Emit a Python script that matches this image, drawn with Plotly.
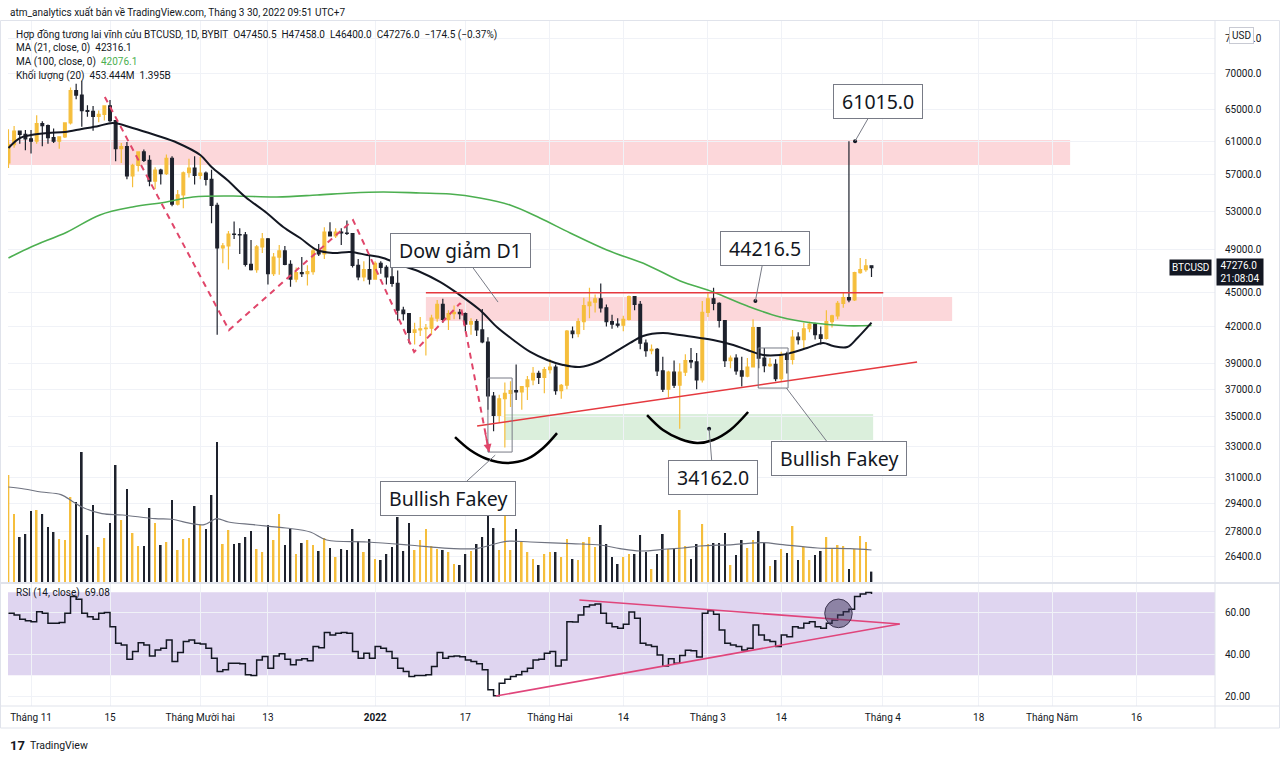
import math

import pandas as pd
import plotly.graph_objects as go

W, H = 1280, 759

# ---------------------------------------------------------------- data
# Daily BTCUSD perpetual (Bybit), 28 Oct 2021 .. 30 Mar 2022
DATES = pd.date_range("2021-10-28", "2022-03-30", freq="D")

OPEN = [58400, 60600, 62250, 61850, 61300, 61000, 63200, 62950, 61450, 61000,
        61550, 63300, 67550, 66950, 64900, 64800, 64150, 64400, 65500, 63600,
        60100, 60350, 56900, 58100, 59700, 58700, 56300, 57550, 57150, 58950,
        53750, 54750, 57250, 57800, 56950, 57200, 56500, 53600, 49200, 49400,
        50600, 50550, 50500, 47600, 47100, 49300, 50100, 46700, 48300, 48900,
        47600, 46200, 46800, 46700, 46900, 48900, 48600, 50800, 50400, 50800,
        50700, 50650, 47500, 46400, 47100, 46200, 47700, 47300, 46400, 45800,
        43400, 43100, 41500, 41700, 41800, 41850, 42700, 43900, 42600, 43100,
        43200, 43100, 42200, 42400, 41700, 40700, 36500, 35100, 36300, 36700,
        36900, 36800, 37200, 37700, 38200, 37900, 38500, 38700, 36900, 37300,
        41600, 41400, 42400, 43800, 44100, 44400, 43600, 42400, 42200, 42100,
        42600, 44600, 43900, 40600, 40000, 40100, 38400, 37000, 38300, 37300,
        38300, 39200, 39100, 37700, 43200, 44400, 44000, 42500, 39200, 39400,
        38400, 38000, 38700, 41900, 39400, 38800, 38900, 37800, 39700, 39300,
        41100, 40900, 41800, 42200, 41300, 41000, 42400, 42900, 44000, 44500,
        44300, 46800, 47100, 47450.5]
HIGH = [62500, 62900, 62300, 62400, 62400, 64300, 63500, 63100, 62600, 61600,
        63300, 68000, 68500, 68900, 65600, 65500, 64900, 65500, 66300, 63600,
        60800, 60900, 58300, 59800, 60000, 59300, 57900, 57700, 59400, 59200,
        55300, 57400, 58900, 59200, 59100, 57400, 57600, 53900, 49700, 50900,
        51900, 51200, 50800, 50000, 49500, 50700, 50200, 48700, 49500, 49400,
        48000, 47300, 48300, 47500, 49300, 49600, 51300, 51800, 51200, 51200,
        52000, 50700, 48100, 47900, 48500, 47900, 47900, 47500, 47500, 47000,
        43700, 43100, 42300, 42800, 42200, 43000, 44300, 44400, 43400, 43800,
        43500, 43200, 42700, 42600, 43500, 41100, 36800, 36600, 37500, 37600,
        38900, 37200, 38000, 38700, 38400, 38700, 39300, 38900, 37400, 41700,
        42000, 42700, 44500, 45400, 44800, 45800, 43900, 43000, 42700, 42900,
        44700, 44600, 44200, 40900, 40500, 40200, 39500, 38400, 39200, 39000,
        39700, 40200, 39800, 44200, 44900, 45400, 44100, 42500, 39600, 39700,
        39500, 39400, 42600, 41900, 40200, 39400, 39300, 39900, 39900, 41700,
        41500, 42300, 42400, 42300, 42000, 43400, 43000, 44200, 45000, 61015,
        46900, 48200, 48100, 47458]
LOW = [57800, 60200, 60700, 59900, 59500, 60700, 60400, 60700, 60800, 60100,
       61400, 63100, 66400, 62800, 64100, 62300, 63400, 63600, 63400, 58600,
       58400, 56500, 55600, 57400, 58500, 55700, 55400, 55900, 57000, 53500,
       53600, 53300, 56700, 55900, 56500, 55800, 51700, 41300, 47700, 47100,
       50100, 48600, 47400, 47000, 46800, 48700, 45700, 46500, 46600, 47500,
       45500, 45900, 46400, 45600, 46600, 48400, 48100, 50400, 50200, 49500,
       50500, 47300, 46100, 46000, 45700, 46200, 46700, 45700, 45500, 42500,
       42500, 40600, 40500, 41200, 39600, 41300, 42400, 42300, 41700, 42600,
       42600, 41600, 41300, 41200, 40600, 35500, 34000, 34600, 32900, 35700,
       36200, 35500, 36200, 37300, 37400, 36700, 38200, 36600, 36300, 37000,
       41000, 41100, 41700, 42700, 43200, 43200, 42000, 41800, 41900, 41600,
       42500, 43400, 40100, 39500, 39700, 38000, 36800, 36400, 37100, 34162,
       38000, 38600, 37000, 37500, 42800, 43400, 41900, 38700, 38600, 38100,
       37200, 37900, 38700, 38600, 38300, 38700, 37600, 37600, 38200, 38900,
       40500, 40200, 41500, 40900, 40500, 40900, 41900, 42600, 43600, 44100,
       44200, 46700, 46900, 46400]
CLOSE = [60600, 62250, 61850, 61300, 61000, 63200, 62950, 61450, 61000, 61550,
         63300, 67550, 66950, 64900, 64800, 64150, 64400, 65500, 63600, 60100,
         60350, 56900, 58100, 59700, 58700, 56300, 57550, 57150, 58950, 53750,
         54750, 57250, 57800, 56950, 57200, 56500, 53600, 49200, 49400, 50600,
         50550, 50500, 47600, 47100, 49300, 50100, 46700, 48300, 48900, 47600,
         46200, 46800, 46700, 46900, 48900, 48600, 50800, 50400, 50800, 50700,
         50650, 47500, 46400, 47100, 46200, 47700, 47300, 46400, 45800, 43400,
         43100, 41500, 41700, 41800, 41850, 42700, 43900, 42600, 43100, 43200,
         43100, 42200, 42400, 41700, 40700, 36500, 35100, 36300, 36700, 36900,
         36800, 37200, 37700, 38200, 37900, 38500, 38700, 36900, 37300, 41600,
         41400, 42400, 43800, 44100, 44400, 43600, 42400, 42200, 42100, 42600,
         44600, 43900, 40600, 40000, 40100, 38400, 37000, 38300, 37300, 38300,
         39200, 39100, 37700, 43200, 44400, 44000, 42500, 39200, 39400, 38400,
         38000, 38700, 41900, 39400, 38800, 38900, 37800, 39700, 39300, 41100,
         40900, 41800, 42200, 41300, 41000, 42400, 42900, 44000, 44500, 44300,
         46800, 47100, 47450.5, 47276]

# volume, millions of contracts
VOLUME_M = [4665, 2965, 1962, 2093, 3096, 3139, 2965, 2398, 2180, 1875,
            1831, 3706, 3488, 5668, 2049, 3357, 1526, 1918, 2572, 5101,
            2703, 4055, 2136, 1570, 1570, 3226, 2572, 1613, 1744, 3575,
            1395, 1875, 1918, 3314, 2485, 2311, 3793, 6104, 1657, 2267,
            1657, 1700, 1962, 2224, 1439, 1308, 2485, 1831, 2965, 1613,
            2311, 1221, 1700, 1831, 1613, 1352, 1918, 1482, 1090, 1439,
            1395, 2311, 1788, 1308, 1875, 1003, 959, 1221, 1526, 2834,
            1352, 2572, 1395, 1831, 2311, 1570, 1439, 1395, 1308, 785,
            741, 1221, 1352, 1657, 1962, 4011, 2354, 1395, 3052, 1395,
            2311, 1744, 1308, 1003, 741, 1221, 1308, 1308, 1090, 1875,
            1003, 959, 1744, 1962, 1526, 2485, 1657, 1090, 785, 1090,
            1221, 1221, 2049, 1308, 567, 1221, 2093, 1439, 1439, 3139,
            1570, 1003, 1657, 2529, 1657, 1700, 1700, 2136, 741, 1177,
            1831, 1482, 1831, 2224, 1700, 698, 959, 1439, 1264, 2442,
            959, 1526, 959, 1177, 1352, 1962, 1439, 1613, 1570, 567,
            1439, 2006, 1744, 453.444]

RSI = [59.8, 59.0, 57.0, 56.2, 55.8, 60.6, 59.8, 55.0, 55.0, 55.4,
       59.8, 67.9, 66.6, 59.8, 58.2, 57.0, 59.8, 60.2, 53.4, 45.4,
       44.6, 37.7, 41.4, 45.7, 44.6, 39.3, 42.2, 43.0, 47.0, 36.6,
       40.9, 46.2, 47.0, 45.4, 45.1, 43.0, 38.2, 31.8, 32.6, 35.8,
       35.8, 35.5, 30.2, 29.9, 37.4, 39.0, 33.4, 39.3, 40.3, 37.7,
       35.0, 37.4, 38.0, 37.0, 43.8, 43.2, 50.6, 49.4, 50.2, 50.6,
       50.2, 41.4, 38.2, 40.6, 38.2, 43.8, 43.0, 41.4, 38.2, 33.4,
       31.8, 29.4, 29.9, 29.9, 30.2, 34.2, 40.9, 38.2, 39.0, 39.3,
       38.9, 37.4, 36.6, 35.5, 32.6, 23.0, 20.1, 26.2, 28.1, 29.4,
       30.2, 31.8, 33.4, 37.4, 37.7, 40.6, 41.4, 34.5, 37.4, 55.8,
       55.6, 59.0, 63.0, 63.8, 64.3, 59.8, 55.0, 53.4, 52.6, 54.5,
       60.5, 57.5, 45.4, 44.6, 43.8, 39.8, 34.5, 38.0, 35.8, 39.5,
       42.0, 41.8, 38.8, 59.8, 61.1, 59.4, 51.8, 45.4, 44.6, 43.8,
       42.2, 43.0, 54.2, 49.4, 47.0, 46.2, 43.8, 49.4, 48.5, 53.4,
       52.8, 55.0, 55.8, 53.4, 52.6, 55.0, 56.6, 59.0, 60.6, 61.8,
       67.9, 69.1, 69.8, 69.08]

# moving averages
MA21_DATES = ["2021-10-28", "2021-10-30", "2021-11-01", "2021-11-04", "2021-11-07",
              "2021-11-10", "2021-11-13", "2021-11-15 12:00", "2021-11-19", "2021-11-23",
              "2021-11-27", "2021-12-01", "2021-12-03", "2021-12-05 19:00", "2021-12-09",
              "2021-12-12 19:00", "2021-12-15 17:00", "2021-12-18 17:00", "2021-12-21 17:00",
              "2021-12-24 12:00", "2021-12-27 14:00", "2021-12-30 14:00", "2022-01-02 10:00",
              "2022-01-05 10:00", "2022-01-09", "2022-01-12 12:00", "2022-01-15 12:00",
              "2022-01-19 14:00", "2022-01-22 14:00", "2022-01-25 12:00", "2022-01-28 12:00",
              "2022-01-31 12:00", "2022-02-03 07:00", "2022-02-06 07:00", "2022-02-09 10:00",
              "2022-02-12 05:00", "2022-02-15 05:00", "2022-02-17 12:00", "2022-02-21",
              "2022-02-24", "2022-02-27 14:00", "2022-03-01 22:00", "2022-03-05 12:00",
              "2022-03-08", "2022-03-10 19:00", "2022-03-13 19:00", "2022-03-15 14:00",
              "2022-03-18 14:00", "2022-03-21 10:00", "2022-03-23 05:00", "2022-03-25 17:00",
              "2022-03-27 12:00", "2022-03-30"]
MA21 = [60180, 61400, 61770, 62030, 62150, 62530, 62910, 63290, 62660, 61770,
        60790, 59330, 57920, 56420, 54520, 52790, 51320, 50190, 48990, 48700,
        48800, 48500, 48210, 47540, 46870, 45940, 44930, 43410, 41940, 40860,
        39890, 39250, 38860, 38700, 39090, 39800, 40620, 41200, 41440, 41270,
        41030, 40860, 40450, 40050, 39650, 39650, 39800, 40210, 40620, 40370,
        40290, 41030, 42316.1]

MA100_DATES = ["2021-10-28", "2021-11-01", "2021-11-07 10:00", "2021-11-13 05:00", "2021-11-19",
               "2021-11-25", "2021-11-29 17:00", "2021-12-06 19:00", "2021-12-14 14:00",
               "2021-12-21 17:00", "2021-12-27 14:00", "2022-01-02 10:00", "2022-01-09",
               "2022-01-14 07:00", "2022-01-19 14:00", "2022-01-24 22:00", "2022-01-30 05:00",
               "2022-02-04 14:00", "2022-02-11 02:00", "2022-02-18 05:00", "2022-02-24 02:00",
               "2022-03-01 22:00", "2022-03-08", "2022-03-13 19:00", "2022-03-19 17:00",
               "2022-03-25 17:00", "2022-03-30"]
MA100 = [48210, 49290, 50810, 52580, 53430, 53970, 54520, 54630, 54520, 54740,
         54960, 55070, 54960, 54850, 54410, 53640, 52260, 50700, 48990, 47540,
         46030, 45020, 43760, 42810, 42290, 42050, 42076.1]

VOL_MA_DATES = ["2021-10-28", "2021-10-30 19:00", "2021-11-02 19:00", "2021-11-06 07:00",
                "2021-11-08 12:00", "2021-11-10", "2021-11-13 14:00", "2021-11-17 05:00",
                "2021-11-23", "2021-11-25 22:00", "2021-11-29 12:00", "2021-12-01 17:00",
                "2021-12-03 22:00", "2021-12-06", "2021-12-10 10:00", "2021-12-16 05:00",
                "2021-12-20 12:00", "2021-12-23 10:00", "2021-12-30 14:00", "2022-01-06 22:00",
                "2022-01-14 02:00", "2022-01-19 05:00", "2022-01-24 05:00", "2022-01-28 14:00",
                "2022-02-04 19:00", "2022-02-09 22:00", "2022-02-13 10:00", "2022-02-17",
                "2022-02-21 19:00", "2022-02-24 14:00", "2022-02-27 14:00", "2022-03-05 12:00",
                "2022-03-10 19:00", "2022-03-14 07:00", "2022-03-20 10:00", "2022-03-26 05:00",
                "2022-03-30"]
VOL_MA_M = [4142, 4055, 3924, 3808, 3488, 3270, 2978, 2921, 2760, 2735,
            2542, 2499, 2760, 2616, 2499, 2354, 2180, 1831, 1744, 1613,
            1468, 1468, 1773, 1744, 1671, 1613, 1453, 1352, 1439, 1482,
            1570, 1627, 1715, 1627, 1482, 1453, 1395]

# drawings (anchored in date / price)
SUPPLY_TOP = ("2021-10-27", "2022-05-04 05:00", 58150, 61160)
SUPPLY_MID = ("2022-01-10", "2022-04-13 07:00", 42460, 44560)
DEMAND_ZONE = ("2022-01-24", "2022-03-30 07:00", 33400, 35200)
RESIST_DATES = ["2022-01-10", "2022-04-01 02:00"]
RESIST_PRICES = [44950, 44950]
TREND_DATES = ["2022-01-19 02:00", "2022-04-07 02:00"]
TREND_PRICES = [34360, 39090]
DOW_DATES = ["2021-11-14 02:00", "2021-12-06 02:00", "2021-12-28 02:00",
             "2022-01-07 22:00", "2022-01-16 02:00", "2022-01-21 05:00"]
DOW_PRICES = [66700, 41690, 52040, 39890, 44020, 32600]
ARC1_DATES = ["2022-01-15 04:00", "2022-01-17 20:00", "2022-01-20 20:00", "2022-01-24 10:00",
              "2022-01-27 23:00", "2022-01-30 19:00", "2022-02-02 06:00"]
ARC1_PRICES = [33600, 32740, 32150, 31890, 32150, 32870, 33870]
ARC2_DATES = ["2022-02-18 05:00", "2022-02-21 01:00", "2022-02-24 02:00", "2022-02-27 02:00",
              "2022-03-01 22:00", "2022-03-04 23:00", "2022-03-08 03:00"]
ARC2_PRICES = [35120, 34080, 33470, 33200, 33400, 34080, 35340]
FAKEY_BOX_DATES = [("2022-01-21", "2022-01-25 07:00"), ("2022-03-09 22:00", "2022-03-15 05:00")]
FAKEY_BOX_PRICES = [(32600, 37850), (37090, 40210)]

CALLOUT_TEXT = ["Dow giảm D1", "44216.5", "61015.0", "Bullish Fakey", "34162.0", "Bullish Fakey"]
CALLOUT_DATES = ["2022-01-22 19:00", "2022-03-09 10:00", "2022-03-27 02:00",
                 "2022-01-22 07:00", "2022-03-01 05:00", "2022-03-14 22:00"]
CALLOUT_PRICES = [44110, 44216.5, 61015, 32400, 34162, 37090]
CALLOUT_DOT = [False, True, True, False, True, False]

RSI_UP_DATES = ["2022-02-06 05:00", "2022-04-04"]
RSI_UP_VALUES = [66.25, 54.7]
RSI_LOW_DATES = ["2022-01-22 10:00", "2022-04-04"]
RSI_LOW_VALUES = [20.0, 54.7]
RSI_CIRCLE = ("2022-03-21 17:00", "2022-03-26 14:00", 52.9, 66.7)

PRICE_TICKS = [26400, 27800, 29400, 31000, 33000, 35000, 37000, 39000, 42000,
               45000, 49000, 53000, 57000, 61000, 65000, 70000, 75000]
RSI_TICKS = [20, 40, 60]
TIME_TICKS = ["2021-11-01", "2021-11-15", "2021-12-01", "2021-12-13", "2022-01-01",
              "2022-01-17", "2022-02-01", "2022-02-14", "2022-03-01", "2022-03-14",
              "2022-04-01", "2022-04-18", "2022-05-01", "2022-05-16"]
TIME_LABELS = ["Tháng 11", "15", "Tháng Mười hai", "13", "<b>2022</b>", "17", "Tháng Hai",
               "14", "Tháng 3", "14", "Tháng 4", "18", "Tháng Năm", "16"]
LAST_PRICE = 47276.0

# ---------------------------------------------------------------- styling
UP = "#F5BE3C"
DOWN = "#1E222D"
GRID = "#f0f2f7"
BORDER = "#e0e3eb"
TEXT = "#131722"
SMALL = "Roboto, 'Noto Sans', sans-serif"
BIG = "'Noto Sans', 'Open Sans', sans-serif"


def fx(x):
    return x / W


def fy(y):
    return 1 - y / H


X_DOM = [fx(8), fx(1215)]
PRICE_DOM = [fy(582), fy(20)]
RSI_DOM = [fy(706), fy(584)]
X_RANGE = ["2021-10-27 22:00", "2022-05-29 21:30"]
P_RANGE = [math.log10(25087), math.log10(77895)]
VOL_TOP = 24500
RSI_RANGE = [15.19, 73.94]

fig = go.Figure()

up_flags = [c >= o for o, c in zip(OPEN, CLOSE)]

# volume (base axis, behind price)
fig.add_trace(go.Bar(
    x=DATES, y=VOLUME_M, xaxis="x", yaxis="y",
    marker=dict(color=[UP if u else DOWN for u in up_flags], line=dict(width=0)),
    width=0.3 * 86400000,
))
fig.add_trace(go.Scatter(
    x=VOL_MA_DATES, y=VOL_MA_M, xaxis="x", yaxis="y", mode="lines",
    line=dict(color="#6f7380", width=1.2, shape="spline"),
))

# price
fig.add_trace(go.Candlestick(
    x=DATES, open=OPEN, high=HIGH, low=LOW, close=CLOSE, xaxis="x", yaxis="y2",
    increasing=dict(line=dict(color=UP, width=1.2), fillcolor=UP),
    decreasing=dict(line=dict(color=DOWN, width=1.2), fillcolor=DOWN),
    whiskerwidth=0,
))
fig.add_trace(go.Scatter(x=MA100_DATES, y=MA100, xaxis="x", yaxis="y2", mode="lines",
                         line=dict(color="#4CAF50", width=1.6, shape="spline")))
fig.add_trace(go.Scatter(x=MA21_DATES, y=MA21, xaxis="x", yaxis="y2", mode="lines",
                         line=dict(color=TEXT, width=2, shape="spline")))

# drawings
fig.add_trace(go.Scatter(x=RESIST_DATES, y=RESIST_PRICES, xaxis="x", yaxis="y2", mode="lines",
                         line=dict(color="#E5393F", width=1.6)))
fig.add_trace(go.Scatter(x=TREND_DATES, y=TREND_PRICES, xaxis="x", yaxis="y2", mode="lines",
                         line=dict(color="#E5393F", width=1.6)))
fig.add_trace(go.Scatter(x=DOW_DATES, y=DOW_PRICES, xaxis="x", yaxis="y2", mode="lines",
                         line=dict(color="#E0466A", width=2, dash="6px,5px")))
for dates, prices in ((ARC1_DATES, ARC1_PRICES), (ARC2_DATES, ARC2_PRICES)):
    fig.add_trace(go.Scatter(x=dates, y=prices, xaxis="x", yaxis="y2", mode="lines",
                             line=dict(color="#000000", width=2.5, shape="spline")))
fig.add_trace(go.Scatter(
    x=[d for d, k in zip(CALLOUT_DATES, CALLOUT_DOT) if k],
    y=[p for p, k in zip(CALLOUT_PRICES, CALLOUT_DOT) if k],
    xaxis="x", yaxis="y2", mode="markers", marker=dict(color=TEXT, size=4)))

# RSI
fig.add_trace(go.Scatter(x=DATES, y=RSI, xaxis="x2", yaxis="y3", mode="lines",
                         line=dict(color=TEXT, width=1.5, shape="hv")))
for dates, vals in ((RSI_UP_DATES, RSI_UP_VALUES), (RSI_LOW_DATES, RSI_LOW_VALUES)):
    fig.add_trace(go.Scatter(x=dates, y=vals, xaxis="x2", yaxis="y3", mode="lines",
                             line=dict(color="#E0457B", width=1.6)))

shapes = []
for (x0, x1, y0, y1), col in ((SUPPLY_TOP, "rgba(242,54,69,0.2)"),
                              (SUPPLY_MID, "rgba(242,54,69,0.2)"),
                              (DEMAND_ZONE, "rgba(76,175,80,0.2)")):
    shapes.append(dict(type="rect", xref="x", yref="y2", x0=x0, x1=x1, y0=y0, y1=y1,
                       fillcolor=col, line=dict(width=0), layer="below"))
for (x0, x1), (y0, y1) in zip(FAKEY_BOX_DATES, FAKEY_BOX_PRICES):
    shapes.append(dict(type="rect", xref="x", yref="y2", x0=x0, x1=x1, y0=y0, y1=y1,
                       line=dict(color="#787b86", width=1), layer="above"))
shapes.append(dict(type="rect", xref="x domain", yref="y3", x0=0, x1=1, y0=30, y1=70,
                   fillcolor="rgba(126,87,194,0.25)", line=dict(width=0), layer="below"))
cx0, cx1, cy0, cy1 = RSI_CIRCLE
shapes.append(dict(type="circle", xref="x2", yref="y3", x0=cx0, x1=cx1, y0=cy0, y1=cy1,
                   fillcolor="rgba(60,50,90,0.5)", line=dict(color="#3c3550", width=1),
                   layer="above"))
# frame / pane separators
shapes += [
    dict(type="rect", xref="paper", yref="paper", x0=fx(0.5), x1=fx(1279.5), y0=fy(728), y1=fy(20.5),
         line=dict(color=BORDER, width=1)),
    dict(type="line", xref="paper", yref="paper", x0=fx(0), x1=fx(1280), y0=fy(583), y1=fy(583),
         line=dict(color=BORDER, width=2)),
    dict(type="line", xref="paper", yref="paper", x0=fx(0), x1=fx(1280), y0=fy(706), y1=fy(706),
         line=dict(color=BORDER, width=1)),
    dict(type="line", xref="paper", yref="paper", x0=fx(1215), x1=fx(1215), y0=fy(728), y1=fy(20),
         line=dict(color=BORDER, width=1)),
]

ann = []


def txt(x, y, text, size=10, color=TEXT, anchor="left", **kw):
    ann.append(dict(xref="paper", yref="paper", x=fx(x), y=fy(y), text=text, showarrow=False,
                    xanchor=anchor, yanchor="middle", font=dict(family=SMALL, size=size, color=color),
                    **kw))


NB = "\u00a0\u00a0"
txt(8, 12, "atm_analytics xuất bản về TradingView.com, Tháng 3 30, 2022 09:51 UTC+7", size=10)
txt(14, 35, "Hợp đồng tương lai vĩnh cửu BTCUSD, 1D, BYBIT" + NB + "O47450.5" + NB + "H47458.0" + NB
    + "L46400.0" + NB + "C47276.0" + NB + "−174.5 (−0.37%)", size=10)
txt(14, 48, "MA (21, close, 0)" + NB + "42316.1", size=10)
txt(14, 62, "MA (100, close, 0)" + NB + "<span style='color:#4CAF50'>42076.1</span>", size=10)
txt(14, 76, "Khối lượng (20)" + NB + "453.444M" + NB + "1.395B", size=10)
txt(14, 593, "RSI (14, close)" + NB + "69.08", size=10)
txt(8, 745, "<b>17</b>", size=13)
txt(28, 745, "TradingView", size=10.5)
txt(1241, 36, "USD", size=10, anchor="center", bgcolor="white", bordercolor="#c8cad3",
    borderwidth=1, borderpad=2)

# last price tags
lp = math.log10(LAST_PRICE)
ann.append(dict(xref="paper", yref="y2", x=fx(1212), y=lp, text="BTCUSD", showarrow=False,
                xanchor="right", yanchor="middle", bgcolor="#131722", borderpad=2,
                font=dict(family=SMALL, size=10, color="white")))
ann.append(dict(xref="paper", yref="y2", x=fx(1216), y=lp,
                text="\u00a047276.0\u00a0<br>\u00a021:08:04\u00a0",
                showarrow=False, xanchor="left", yanchor="middle", yshift=-4, bgcolor="#131722",
                borderpad=1, align="left", font=dict(family=SMALL, size=10, color="white")))

# callouts
OFFSETS = [(-38, -52), (10, -52), (23, -40), (-47, 43), (4, 49), (53, 70)]
for text, d, p, (ox, oy) in zip(CALLOUT_TEXT, CALLOUT_DATES, CALLOUT_PRICES, OFFSETS):
    ann.append(dict(xref="x", yref="y2", x=d, y=math.log10(p), text="\u00a0" + text + "\u00a0",
                    showarrow=True, ax=ox, ay=oy, arrowhead=0, arrowwidth=1,
                    arrowcolor="#787b86", bgcolor="white", bordercolor="#787b86",
                    borderwidth=1, borderpad=3, font=dict(family=BIG, size=19.5, color=TEXT)))

# dashed zig-zag arrow head
ann.append(dict(xref="x", yref="y2", x=DOW_DATES[-1], y=math.log10(DOW_PRICES[-1]), text="",
                showarrow=True, ax=-4, ay=-20, arrowhead=2, arrowsize=1, arrowwidth=1.6,
                arrowcolor="#E0466A", standoff=0))

axis_font = dict(family=SMALL, size=10, color=TEXT)
fig.update_layout(
    width=W, height=H, margin=dict(l=0, r=0, t=0, b=0),
    paper_bgcolor="white", plot_bgcolor="white", showlegend=False,
    font=dict(family=SMALL, size=10, color=TEXT),
    xaxis=dict(domain=X_DOM, anchor="y", type="date", range=X_RANGE,
               rangeslider=dict(visible=False), showticklabels=False,
               tickmode="array", tickvals=TIME_TICKS, showgrid=True, gridcolor=GRID,
               zeroline=False, showline=False, ticks=""),
    yaxis=dict(domain=PRICE_DOM, anchor="x", range=[0, VOL_TOP], visible=False),
    yaxis2=dict(anchor="x", overlaying="y", side="right", type="log", range=P_RANGE,
                tickmode="array", tickvals=PRICE_TICKS,
                ticktext=[f"{v:.1f}" for v in PRICE_TICKS], showgrid=True, gridcolor=GRID,
                zeroline=False, showline=False, ticks="", ticklabelstandoff=9, tickfont=axis_font),
    xaxis2=dict(domain=X_DOM, anchor="y3", matches="x", type="date", tickmode="array",
                tickvals=TIME_TICKS, ticktext=TIME_LABELS, showgrid=True, gridcolor=GRID,
                zeroline=False, showline=False, ticks="", ticklabelstandoff=4, tickfont=axis_font),
    yaxis3=dict(domain=RSI_DOM, anchor="x2", side="right", range=RSI_RANGE, tickmode="array",
                tickvals=RSI_TICKS, ticktext=[f"{v:.2f}" for v in RSI_TICKS], showgrid=True,
                gridcolor=GRID, zeroline=False, showline=False, ticks="", ticklabelstandoff=9,
                tickfont=axis_font),
    shapes=shapes,
    annotations=ann,
)

# the page's default 8px body margin would shift the fixed-size chart
fig.write_html("out.html", config={"displayModeBar": False},
               post_script="document.body.style.margin='0';")
